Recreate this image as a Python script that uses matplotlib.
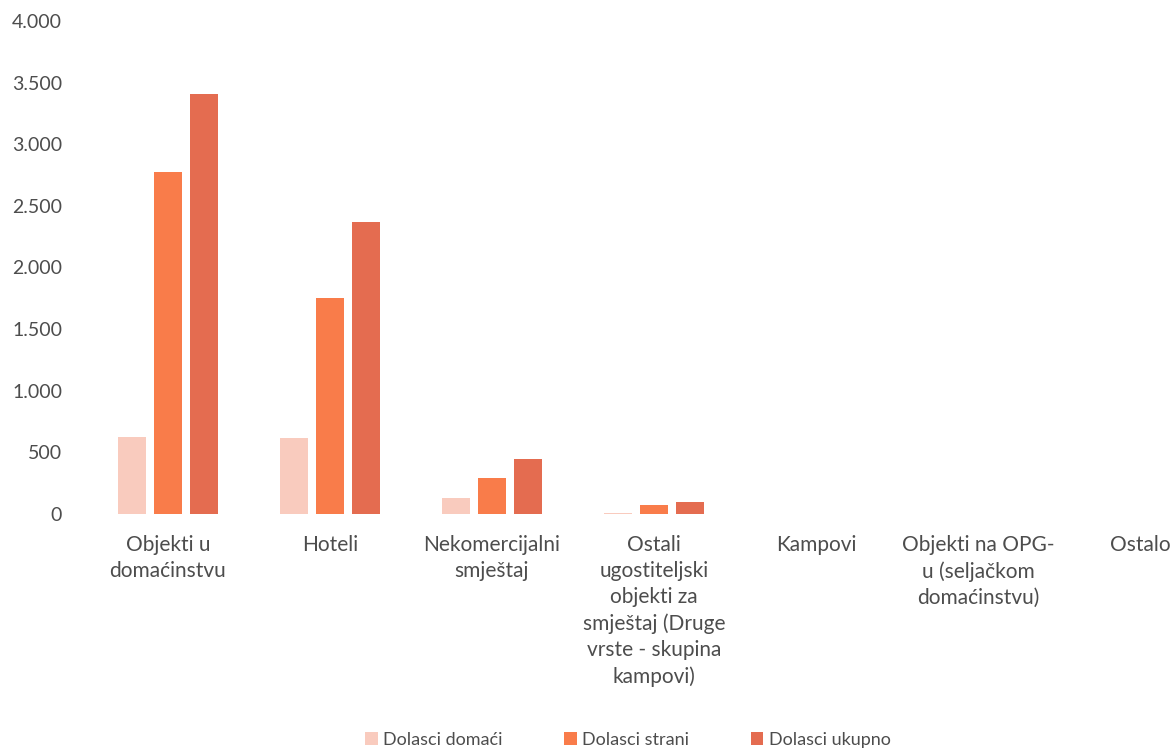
import matplotlib
matplotlib.use("Agg")
import matplotlib.pyplot as plt
import numpy as np

categories = ["Objekti u\ndomaćinstvu", "Hoteli", "Nekomercijalni\nsmještaj",
              "Ostali\nugostiteljski\nobjekti za\nsmještaj (Druge\nvrste - skupina\nkampovi)",
              "Kampovi", "Objekti na OPG-\nu (seljačkom\ndomaćinstvu)", "Ostalo"]
series_names = ["Dolasci domaći", "Dolasci strani", "Dolasci ukupno"]
domaci = [625, 617, 130, 8, 0, 0, 0]
strani = [2775, 1752, 292, 72, 0, 0, 0]
ukupno = [3408, 2369, 448, 95, 0, 0, 0]
yticks = [0, 500, 1000, 1500, 2000, 2500, 3000, 3500, 4000]
colors = ["#F9CBBE", "#F97C4A", "#E46C50"]

plt.rcParams['font.family'] = ['Lato', 'DejaVu Sans']

W, H = 1174, 752
fig = plt.figure(figsize=(W/100, H/100), dpi=100)
left = 87 / W
bottom = 1 - 514 / H
top = 1 - 21 / H
ax = fig.add_axes([left, bottom, 1 - left, top - bottom])

x = np.arange(len(categories))
bw = 0.168
offsets = [-0.222, 0.0, 0.222]
handles = []
for vals, off, c, name in zip([domaci, strani, ukupno], offsets, colors, series_names):
    h = ax.bar(x + off, vals, width=bw, color=c, label=name)
    handles.append(h)

cat_w = 162
ax.set_xlim(-0.5, -0.5 + (W - 87) / cat_w)
ax.set_ylim(0, 4000)
ax.set_yticks(yticks)
ax.set_yticklabels([f"{v:,}".replace(",", ".") for v in yticks], fontsize=14)
ax.set_xticks(x)
ax.set_xticklabels(categories, linespacing=1.38, fontsize=15)
for s in ax.spines.values():
    s.set_visible(False)
ax.tick_params(axis='both', length=0, colors='#4d4d4d')
ax.tick_params(axis='y', pad=18)
ax.tick_params(axis='x', pad=15)

fig.legend(handles=handles, labels=series_names, loc='center', bbox_to_anchor=(0.535, 1 - 740 / H),
           ncol=3, frameon=False, fontsize=13, labelcolor='#4d4d4d',
           handlelength=0.7, handleheight=0.7, handletextpad=0.3, columnspacing=3.4)

fig.savefig("out.png", dpi=100, facecolor='white')
